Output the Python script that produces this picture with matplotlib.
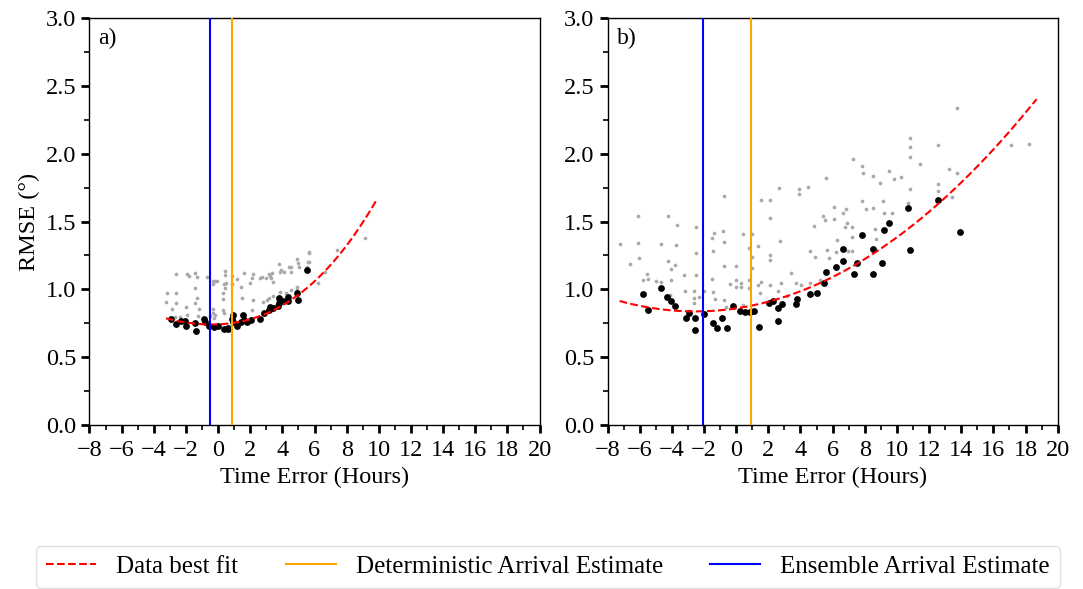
import numpy as np
import matplotlib
matplotlib.use("Agg")
import matplotlib.pyplot as plt
from matplotlib.ticker import MultipleLocator

plt.rcParams["font.family"] = ["Liberation Serif", "DejaVu Serif"]
plt.rcParams["font.size"] = 17.5
plt.rcParams["mathtext.fontset"] = "stix"

# ---- panel a ----
grey_a_x = [-2.60, -1.91, -1.83, -1.46, -1.33, -0.71, -0.33, -0.29, -0.21, -0.09,
            0.43, 0.43, 0.35, 0.47, 0.85, 0.89, 1.16, 1.45, 1.64, 1.99,
            2.11, 2.20, 2.63, 2.76, 2.96, 3.17, 3.23, 3.34, 3.29, 3.40,
            3.79, 3.85, 3.94, 4.12, 4.41, 4.52, 4.52, 4.91, 4.95, 5.04,
            5.64, 5.60, 6.20, 6.68, 7.38,
            -3.18, -2.60, -2.62, -3.22, -2.89, -1.97, -1.46, -1.46, -1.33, -1.21,
            -0.29, -0.29, 0.29, 0.33, 0.43, 0.33, 0.37, 1.47, 2.20, 2.09,
            2.80, 3.02, 3.19, 3.44, 3.83, 4.23, 4.56, 4.93, 4.93,
            -2.68, -2.37, -1.95, -1.25, -0.50, -0.25, -0.19,
            5.66, 5.66, 9.13, 5.52]
grey_a_y = [1.115, 1.115, 1.096, 1.120, 1.093, 1.088, 1.059, 1.037, 1.064, 1.059,
            1.137, 1.108, 1.042, 1.049, 1.100, 1.037, 1.078, 1.014, 1.118, 1.046,
            1.081, 1.110, 1.086, 1.093, 1.081, 1.110, 1.098, 1.118, 1.081, 1.056,
            1.184, 1.125, 1.142, 1.127, 1.162, 1.162, 1.127, 1.226, 1.191, 1.162,
            1.270, 1.199, 1.044, 1.130, 1.290,
            0.970, 0.970, 0.897, 0.906, 0.857, 0.872, 1.007, 0.897, 0.933, 0.852,
            0.857, 0.828, 0.970, 0.926, 1.007, 0.847, 0.823, 0.933, 0.921, 0.847,
            0.904, 0.921, 0.933, 0.951, 0.983, 0.970, 0.995, 1.019, 0.995,
            0.793, 0.798, 0.811, 0.803, 0.803, 0.791, 0.811,
            1.273, 1.199, 1.376, 1.167]

black_a_x = [-2.91, -2.60, -2.31, -2.04, -2.02, -1.43, -1.39, -0.875, -0.83, -0.56,
             -0.25, -0.03, 0.37, 0.60, 0.62, 0.91, 0.89, 0.93, 1.18, 1.45,
             1.53, 1.62, 1.78, 2.05, 2.61, 2.88, 3.19, 3.21, 3.44, 3.73,
             3.79, 3.79, 4.06, 4.37, 4.37, 4.93, 4.95, 5.51]
black_a_y = [0.784, 0.744, 0.766, 0.769, 0.727, 0.749, 0.695, 0.779, 0.757, 0.732,
             0.720, 0.730, 0.705, 0.717, 0.705, 0.811, 0.781, 0.759, 0.732, 0.762,
             0.811, 0.777, 0.762, 0.771, 0.784, 0.828, 0.848, 0.870, 0.860, 0.877,
             0.901, 0.938, 0.914, 0.945, 0.916, 0.970, 0.921, 1.140]

fit_a_coef = [0.0002465, 0.006505, 0.004913, 0.742]   # cubic, highest power first
fit_a_range = [-3.24, 9.83]
ens_a = -0.52
det_a = 0.87

# ---- panel b ----
grey_b_x = [-7.25, -6.63, -6.11, -6.11, -6.05, -5.82, -5.53, -5.51, -4.97, -4.66,
            -4.66, -4.23, -4.23, -4.08, -4.08, -4.10, -3.77, -3.79, -3.65, -3.23,
            -3.17, -2.94, -2.63, -2.61, -2.51, -2.49, -2.47, -2.34, -2.63, -2.03,
            -1.49, -1.47, -1.49, -1.47, -1.37, -1.31, -0.77, -0.79, -0.75, -0.77,
            -0.75, -0.62, -0.39, -0.04, -0.04, -0.04, 0.29, 0.31, 0.41, 0.43,
            0.79, 0.83, 0.97, 0.97, 0.99, 0.83, 1.39, 1.39, 1.47, 1.55,
            1.55, 2.09, 2.11, 2.13, 2.13, 2.11, 2.59, 2.69, 2.73, 2.82,
            3.15, 3.44, 3.75, 3.89, 3.89, 4.04, 4.47, 4.58, 4.60, 4.87,
            4.91, 5.22, 5.43, 5.61, 5.63, 5.53, 5.78, 6.09, 6.11, 6.21,
            6.30, 6.63, 6.77, 6.81, 6.88, 6.96, 7.21, 7.23, 7.29, 7.21,
            7.81, 7.91, 7.81, 8.08, 8.49, 8.51, 8.66, 8.68, 8.95, 9.11,
            9.22, 9.53, 9.67, 9.82, 10.25, 10.71, 10.83, 10.83, 10.83, 10.83,
            11.41, 12.57, 12.57, 12.57, 13.26, 13.44, 13.71, 17.11, 18.19, 13.72]
grey_b_y = [1.331, 1.184, 1.540, 1.341, 1.228, 1.071, 1.115, 1.078, 1.059, 1.334,
            1.051, 1.540, 1.206, 1.147, 1.068, 0.958, 1.324, 1.177, 1.476, 1.108,
            0.990, 0.843, 0.990, 0.899, 1.462, 1.265, 1.108, 0.941, 0.936, 0.985,
            1.378, 1.285, 1.078, 0.980, 1.415, 0.926, 1.688, 1.427, 1.351, 1.172,
            0.921, 0.867, 1.039, 1.172, 1.068, 1.014, 1.049, 1.014, 1.408, 0.884,
            1.302, 1.068, 1.410, 1.236, 1.157, 1.007, 1.319, 1.034, 0.975, 1.658,
            1.056, 1.658, 1.523, 1.250, 1.213, 1.032, 0.990, 1.749, 1.358, 1.044,
            0.951, 1.123, 1.044, 1.737, 1.700, 1.029, 1.751, 1.280, 1.044, 1.466,
            1.238, 1.068, 1.540, 1.820, 1.290, 1.511, 1.231, 1.516, 1.606, 1.277,
            1.363, 1.565, 1.462, 1.589, 1.486, 1.282, 1.388, 1.462, 1.958, 1.285,
            1.906, 1.859, 1.651, 1.589, 1.835, 1.597, 1.442, 1.371, 1.781, 1.648,
            1.560, 1.874, 1.560, 1.815, 1.825, 1.633, 2.112, 2.051, 1.977, 1.737,
            1.923, 2.066, 1.773, 1.727, 1.884, 1.678, 1.859, 2.063, 2.071, 2.338]

black_b_x = [-5.82, -5.47, -4.66, -4.33, -4.08, -3.79, -3.15, -2.92, -2.59, -2.59,
             -2.03, -1.43, -1.18, -0.87, -0.60, -0.17, 0.27, 0.56, 0.87, 1.12,
             1.43, 2.05, 2.28, 2.59, 2.59, 2.88, 3.75, 3.77, 4.60, 5.03,
             5.47, 5.61, 6.19, 6.63, 6.67, 7.35, 7.50, 7.83, 8.51, 8.51,
             9.09, 9.22, 9.53, 10.69, 10.83, 12.57, 13.92]
black_b_y = [0.968, 0.845, 1.010, 0.941, 0.916, 0.879, 0.789, 0.823, 0.789, 0.698,
             0.816, 0.749, 0.715, 0.789, 0.717, 0.877, 0.840, 0.835, 0.835, 0.840,
             0.720, 0.899, 0.911, 0.860, 0.766, 0.892, 0.892, 0.929, 0.963, 0.973,
             1.046, 1.125, 1.167, 1.206, 1.299, 1.113, 1.194, 1.400, 1.299, 1.115,
             1.194, 1.435, 1.489, 1.597, 1.287, 1.656, 1.420]

fit_b_coef = [0.003469, 0.01768, 0.8599]   # quadratic, highest power first
fit_b_range = [-7.25, 18.69]
ens_b = -2.06
det_b = 0.92

fig, axes = plt.subplots(1, 2, figsize=(10.83, 5.89), dpi=100)
fig.subplots_adjust(left=0.0826, right=0.9766, bottom=0.2784, top=0.9694, wspace=0.151)

panels = [
    (axes[0], "a)", grey_a_x, grey_a_y, black_a_x, black_a_y, fit_a_coef, fit_a_range, ens_a, det_a),
    (axes[1], "b)", grey_b_x, grey_b_y, black_b_x, black_b_y, fit_b_coef, fit_b_range, ens_b, det_b),
]

for ax, lab, gx, gy, bx, by, coef, rng, ens, det in panels:
    ax.scatter(gx, gy, s=7, color="#a9a9a9", linewidths=0, zorder=2)
    ax.scatter(bx, by, s=24, color="black", linewidths=0, zorder=3)
    xf = np.linspace(rng[0], rng[1], 200)
    ax.plot(xf, np.polyval(coef, xf), "--", color="red", lw=1.5, zorder=4, label="Data best fit")
    ax.axvline(det, color="orange", lw=1.5, zorder=5, label="Deterministic Arrival Estimate")
    ax.axvline(ens, color="blue", lw=1.5, zorder=5, label="Ensemble Arrival Estimate")
    ax.set_xlim(-8, 20)
    ax.set_ylim(0, 3)
    ax.xaxis.set_major_locator(MultipleLocator(2))
    ax.xaxis.set_minor_locator(MultipleLocator(1))
    ax.yaxis.set_major_locator(MultipleLocator(0.5))
    ax.yaxis.set_minor_locator(MultipleLocator(0.25))
    ax.tick_params(which="major", length=6, width=2)
    ax.tick_params(axis="x", which="major", pad=5)
    ax.tick_params(which="minor", length=3.5, width=1.2)
    for sp in ax.spines.values():
        sp.set_linewidth(1.0)
    ax.set_xlabel("Time Error (Hours)", labelpad=4)
    ax.text(0.02, 0.975, lab, transform=ax.transAxes, ha="left", va="top", fontsize=17)

axes[0].set_ylabel("RMSE (°)")

handles, labels = axes[0].get_legend_handles_labels()
fig.legend(handles, labels, loc="lower center", bbox_to_anchor=(0.506, -0.007), ncol=3,
           frameon=True, edgecolor="#d9d9d9", fancybox=True, borderaxespad=0.2,
           fontsize=18, columnspacing=1.9)

fig.savefig("out.png", dpi=100)
